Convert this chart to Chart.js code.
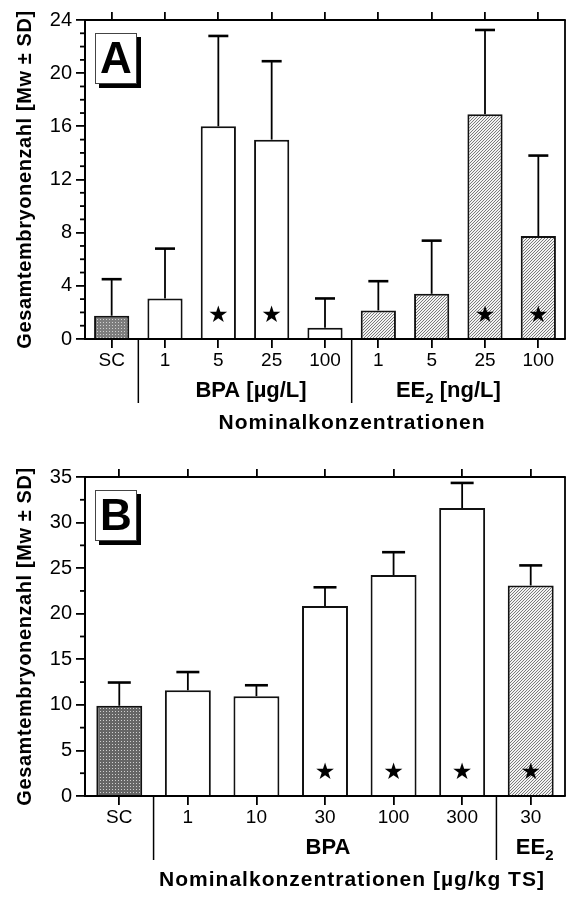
<!DOCTYPE html>
<html>
<head>
<meta charset="utf-8">
<script src="https://cdn.jsdelivr.net/npm/chart.js@4.4.1/dist/chart.umd.min.js"></script>
<style>
  html, body { margin: 0; padding: 0; background: #fff; }
  .panel { position: absolute; left: 0; }
  #panelA { top: 0; }
  #panelB { top: 440px; }
</style>
</head>
<body>
<div class="panel" id="panelA"><canvas id="chartA" width="566" height="440"></canvas></div>
<div class="panel" id="panelB"><canvas id="chartB" width="566" height="457"></canvas></div>
<script>
// panel A: water exposure
const labelsA = ["SC", "1", "5", "25", "100", "1", "5", "25", "100"];
const meanA = [1.75, 3.05, 16.0, 15.0, 0.85, 2.15, 3.4, 16.9, 7.75];
const sdA = [2.75, 3.75, 6.8, 5.9, 2.2, 2.2, 4.0, 6.35, 6.05];
const kindA = ["sc", "bpa", "bpa", "bpa", "bpa", "ee", "ee", "ee", "ee"];
const starA = [0, 0, 1, 1, 0, 0, 0, 1, 1];
const ticksA = [0, 4, 8, 12, 16, 20, 24];

// panel B: sediment exposure
const labelsB = ["SC", "1", "10", "30", "100", "300", "30"];
const meanB = [9.9, 11.6, 10.95, 20.85, 24.25, 31.6, 23.1];
const sdB = [2.55, 2.0, 1.2, 2.05, 2.5, 2.75, 2.2];
const kindB = ["sc", "bpa", "bpa", "bpa", "bpa", "bpa", "ee"];
const starB = [0, 0, 0, 1, 1, 1, 1];
const ticksB = [0, 5, 10, 15, 20, 25, 30, 35];

const FONT = '"Liberation Sans", Arial, sans-serif';

function makePattern(w, h, bg, fg, pts) {
  const c = document.createElement("canvas");
  c.width = w; c.height = h;
  const g = c.getContext("2d");
  g.fillStyle = bg; g.fillRect(0, 0, w, h);
  g.fillStyle = fg;
  pts.forEach(p => g.fillRect(p[0], p[1], 1, 1));
  return g.createPattern(c, "repeat");
}

function fillsFor(kinds, scBg) {
  const stipple = makePattern(3, 3, scBg, "#d0d0d0", [[1, 1]]);
  const hatch = makePattern(3, 3, "#f2f2f2", "#7a7a7a", [[0, 2], [1, 1], [2, 0]]);
  return kinds.map(k => k === "sc" ? stipple : k === "ee" ? hatch : "#ffffff");
}

// draws text made of normal and subscript parts, centred on cx
function drawParts(ctx, parts, cx, cy, size) {
  const fontN = "bold " + size + "px " + FONT;
  const fontS = "bold " + Math.round(size * 0.7) + "px " + FONT;
  let total = 0;
  parts.forEach(p => { ctx.font = p.sub ? fontS : fontN; total += ctx.measureText(p.t).width; });
  let x = cx - total / 2;
  ctx.textAlign = "left";
  ctx.textBaseline = "middle";
  parts.forEach(p => {
    ctx.font = p.sub ? fontS : fontN;
    ctx.fillText(p.t, x, p.sub ? cy + size * 0.35 : cy);
    x += ctx.measureText(p.t).width;
  });
}

const panelDecor = {
  id: "panelDecor",
  afterDatasetsDraw(chart, args, o) {
    const ctx = chart.ctx;
    const y = chart.scales.y;
    const meta = chart.getDatasetMeta(0);
    const mean = chart.data.datasets[0].data;
    ctx.save();
    ctx.strokeStyle = "#000";
    meta.data.forEach((bar, i) => {
      const yb = y.getPixelForValue(mean[i]);
      const yt = y.getPixelForValue(mean[i] + o.sd[i]);
      ctx.lineWidth = 1.8;
      ctx.beginPath(); ctx.moveTo(bar.x, yb); ctx.lineTo(bar.x, yt); ctx.stroke();
      ctx.lineWidth = 2.6;
      ctx.beginPath(); ctx.moveTo(bar.x - o.cap, yt); ctx.lineTo(bar.x + o.cap, yt); ctx.stroke();
      if (o.stars[i]) {
        ctx.fillStyle = "#000";
        ctx.font = '23px "DejaVu Sans"';
        ctx.textAlign = "center";
        ctx.textBaseline = "middle";
        ctx.fillText("\u2605", bar.x, y.getPixelForValue(o.starLevel));
      }
    });
    ctx.restore();
  },
  afterDraw(chart, args, o) {
    const ctx = chart.ctx;
    const a = chart.chartArea;
    const x = chart.scales.x;
    const y = chart.scales.y;
    ctx.save();
    ctx.strokeStyle = "#000";
    ctx.fillStyle = "#000";
    ctx.lineWidth = 1.8;

    // right frame line
    ctx.beginPath(); ctx.moveTo(a.right, a.top); ctx.lineTo(a.right, a.bottom); ctx.stroke();

    // minor ticks on the value axis
    for (let v = y.min; v <= y.max + 1e-9; v += o.minorStep) {
      if (Math.abs(v / o.majorStep - Math.round(v / o.majorStep)) < 1e-6) continue;
      const py = y.getPixelForValue(v);
      ctx.beginPath(); ctx.moveTo(a.left - 5, py); ctx.lineTo(a.left, py); ctx.stroke();
    }

    // panel letter in a shadowed box
    const bx = a.left + 10, by = a.top + 13, bw = 42, bh = 51;
    ctx.fillRect(bx + 4, by + 4, bw, bh);
    ctx.fillStyle = "#fff";
    ctx.fillRect(bx, by, bw, bh);
    ctx.lineWidth = 1;
    ctx.strokeStyle = "#444";
    ctx.strokeRect(bx + 0.5, by + 0.5, bw - 1, bh - 1);
    ctx.fillStyle = "#000";
    ctx.font = "bold 44px " + FONT;
    ctx.textAlign = "center";
    ctx.textBaseline = "middle";
    ctx.fillText(o.letter, bx + bw / 2, by + bh / 2 + 2);

    // value axis title
    ctx.save();
    ctx.translate(25, (a.top + a.bottom) / 2);
    ctx.rotate(-Math.PI / 2);
    ctx.font = "bold 20px " + FONT;
    ctx.letterSpacing = "0.6px";
    ctx.fillText("Gesamtembryonenzahl [Mw \u00b1 SD]", 0, 0);
    ctx.restore();

    // group separators below the axis
    ctx.strokeStyle = "#000";
    ctx.lineWidth = 1.5;
    o.separators.forEach(b => {
      const px = (x.getPixelForTick(b - 1) + x.getPixelForTick(b)) / 2;
      ctx.beginPath(); ctx.moveTo(px, a.bottom); ctx.lineTo(px, a.bottom + 64); ctx.stroke();
    });

    // group names
    o.groups.forEach(g => {
      const cx = (x.getPixelForTick(g.first) + x.getPixelForTick(g.last)) / 2 + g.dx;
      drawParts(ctx, g.parts, cx, a.bottom + 52, 22);
    });

    // category axis title
    ctx.font = "bold 21px " + FONT;
    ctx.letterSpacing = "1px";
    ctx.textAlign = "center";
    ctx.textBaseline = "middle";
    ctx.fillText(o.xTitle, 352, a.bottom + 84);
    ctx.restore();
  }
};

function makePanel(id, labels, mean, fills, yMax, yStep, plotTop, plotBottom, canvasH, barPct, decor) {
  return new Chart(document.getElementById(id), {
    type: "bar",
    data: {
      labels: labels,
      datasets: [{
        data: mean,
        backgroundColor: fills,
        borderColor: "#111",
        borderWidth: 2,
        barPercentage: barPct,
        categoryPercentage: 1.0
      }]
    },
    options: {
      responsive: false,
      animation: false,
      layout: { padding: { right: 1 } },
      plugins: {
        legend: { display: false },
        tooltip: { enabled: false },
        panelDecor: decor
      },
      scales: {
        x: {
          offset: true,
          grid: { drawOnChartArea: false, offset: false, tickLength: 9, color: "#000", lineWidth: 1.8 },
          border: { display: true, color: "#000", width: 2 },
          ticks: { color: "#000", font: { family: FONT, size: 19 }, padding: 1, maxRotation: 0, autoSkip: false },
          afterFit: s => { s.height = canvasH - plotBottom; }
        },
        xTop: {
          type: "category",
          position: "top",
          offset: true,
          grid: { drawOnChartArea: false, offset: false, tickLength: 8, color: "#000", lineWidth: 1.8 },
          border: { display: true, color: "#000", width: 2 },
          ticks: { display: false },
          afterFit: s => { s.height = plotTop; }
        },
        y: {
          min: 0,
          max: yMax,
          ticks: { stepSize: yStep, color: "#000", font: { family: FONT, size: 20 }, padding: 4 },
          grid: { drawOnChartArea: false, tickLength: 9, color: "#000", lineWidth: 1.8 },
          border: { display: true, color: "#000", width: 2 },
          afterFit: s => { s.width = 85; }
        }
      }
    },
    plugins: [panelDecor]
  });
}

makePanel("chartA", labelsA, meanA, fillsFor(kindA, "#7d7d7d"), ticksA[ticksA.length - 1], ticksA[1] - ticksA[0], 20, 339, 440, 0.66, {
  sd: sdA, stars: starA, starLevel: 1.7, cap: 10,
  minorStep: 1, majorStep: 4, letter: "A",
  separators: [1, 5],
  groups: [
    { first: 1, last: 4, dx: 6, parts: [{ t: "BPA [\u00b5g/L]" }] },
    { first: 5, last: 8, dx: -10, parts: [{ t: "EE" }, { t: "2", sub: true }, { t: " [ng/L]" }] }
  ],
  xTitle: "Nominalkonzentrationen"
});

makePanel("chartB", labelsB, meanB, fillsFor(kindB, "#666666"), ticksB[ticksB.length - 1], ticksB[1] - ticksB[0], 37, 356, 457, 0.67, {
  sd: sdB, stars: starB, starLevel: 2.5, cap: 11.5,
  minorStep: 2.5, majorStep: 5, letter: "B",
  separators: [1, 6],
  groups: [
    { first: 1, last: 5, dx: 3, parts: [{ t: "BPA" }] },
    { first: 6, last: 6, dx: 4, parts: [{ t: "EE" }, { t: "2", sub: true }] }
  ],
  xTitle: "Nominalkonzentrationen [\u00b5g/kg TS]"
});
</script>
</body>
</html>
